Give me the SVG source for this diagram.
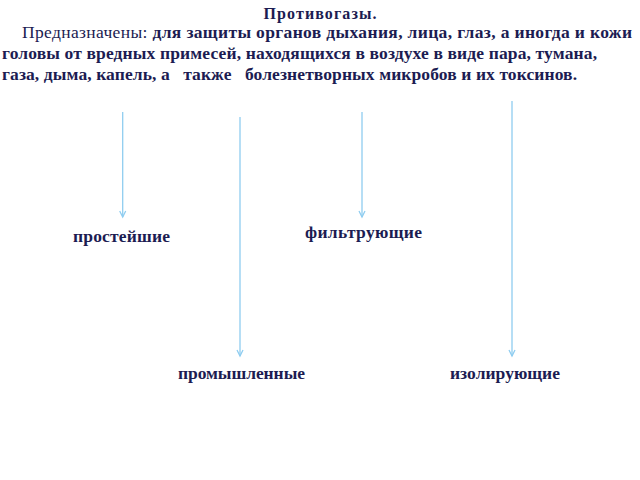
<svg xmlns="http://www.w3.org/2000/svg" width="640" height="480" viewBox="0 0 640 480">
<defs>
<style>
.t{font-family:"Liberation Serif","Times New Roman",serif;fill:#1c1c52;font-weight:bold}
.n{font-weight:normal}
.c{stroke:#8fcdf0;stroke-width:1.3;fill:none}
</style>
<marker id="ah" markerWidth="10" markerHeight="10" refX="7" refY="5" orient="auto" markerUnits="userSpaceOnUse" viewBox="0 0 10 10">
<path d="M1,2 L7,5 L1,8" stroke="#8fcdf0" stroke-width="1.3" fill="none"/>
</marker>
</defs>
<rect width="640" height="480" fill="#ffffff"/>
<g id="header">
<text class="t" x="320" y="19" font-size="16" text-anchor="middle" textLength="113">Противогазы.</text>
<text class="t" x="22" y="38" font-size="17.5" textLength="610"><tspan class="n">Предназначены:</tspan> для защиты органов дыхания, лица, глаз, а иногда и кожи</text>
<text class="t" x="2" y="59" font-size="17.5" textLength="595">головы от вредных примесей, находящихся в воздухе в виде пара, тумана,</text>
<text class="t" x="2" y="80" font-size="17.5" textLength="575" xml:space="preserve">газа, дыма, капель, а   также   болезнетворных микробов и их токсинов.</text>
</g>
<g id="connectors">
<line class="c" x1="122.7" y1="112" x2="122.7" y2="217" marker-end="url(#ah)"/>
<line class="c" x1="240" y1="117" x2="240" y2="356" marker-end="url(#ah)"/>
<line class="c" x1="362" y1="112" x2="362" y2="217" marker-end="url(#ah)"/>
<line class="c" x1="512" y1="101" x2="512" y2="356" marker-end="url(#ah)"/>
</g>
<g id="node-prosteishie"><text class="t" x="73" y="242" font-size="17.5" textLength="97">простейшие</text></g>
<g id="node-filtruyushchie"><text class="t" x="305" y="238" font-size="17.5" textLength="117">фильтрующие</text></g>
<g id="node-promyshlennye"><text class="t" x="178" y="379" font-size="17.5" textLength="127">промышленные</text></g>
<g id="node-izoliruyushchie"><text class="t" x="450" y="379" font-size="17.5" textLength="110">изолирующие</text></g>
</svg>
